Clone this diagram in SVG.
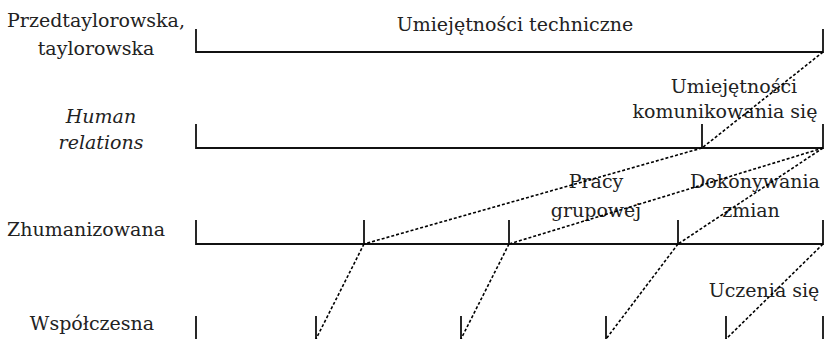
<svg xmlns="http://www.w3.org/2000/svg" width="829" height="339" viewBox="0 0 829 339">
<style>
text{font-family:"DejaVu Serif","Liberation Serif",serif;font-size:19px;fill:#222;text-anchor:middle}
.it{font-style:italic}
.s{stroke:#111;stroke-width:1.8;fill:none}
.d{stroke:#000;stroke-width:1.6;stroke-dasharray:3 2;fill:none}
</style>
<rect width="829" height="339" fill="#fff"/>
<g id="labels">
<text x="96" y="27">Przedtaylorowska,</text>
<text x="96" y="55">taylorowska</text>
<text class="it" x="101" y="123">Human</text>
<text class="it" x="101" y="149">relations</text>
<text x="86" y="236">Zhumanizowana</text>
<text x="92" y="330">Współczesna</text>
</g>
<g id="row1">
<path class="s" d="M196,29V52H823V29"/>
<text x="515" y="31">Umiejętności techniczne</text>
</g>
<g id="row2">
<path class="s" d="M196,124V148H823V124M702,124V148"/>
<text x="734" y="93">Umiejętności</text>
<text x="725" y="118">komunikowania się</text>
</g>
<g id="row3">
<path class="s" d="M196,220V244H823V220M364,220V244M509,220V244M678,220V244"/>
<text x="596" y="188">Pracy</text>
<text x="596" y="217">grupowej</text>
<text x="755" y="188">Dokonywania</text>
<text x="751" y="217">zmian</text>
</g>
<g id="row4">
<path class="s" d="M196,316V339M316,316V339M461,316V339M606,316V339M726,316V339M823,316V339"/>
<text x="764" y="297">Uczenia się</text>
</g>
<g id="connectors">
<path class="d" d="M823,52L702,148"/>
<path class="d" d="M702,148L364,244"/>
<path class="d" d="M823,148L509,244"/>
<path class="d" d="M823,148L678,244"/>
<path class="d" d="M364,244L316,339"/>
<path class="d" d="M509,244L461,339"/>
<path class="d" d="M678,244L606,339"/>
<path class="d" d="M823,244L726,339"/>
</g>
</svg>
